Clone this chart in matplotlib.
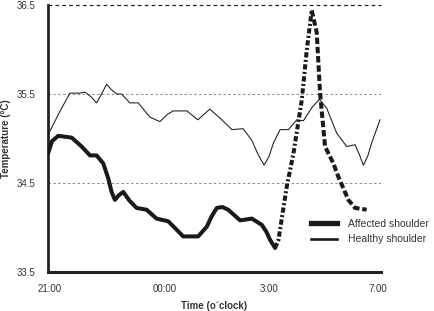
import matplotlib
matplotlib.use("Agg")
import matplotlib.pyplot as plt
from matplotlib.lines import Line2D

plt.rcParams['font.family'] = ['Liberation Sans', 'DejaVu Sans']

# x positions are on a relative time scale (0..100) matching the axis
healthy_x = [0, 3.5, 6.6, 9.6, 11.1, 12.9, 14.6, 16.1, 17.6, 19.0, 20.6, 22.1, 24.6, 27.1,
             30.6, 33.6, 35.8, 37.6, 41.7, 45.0, 46.8, 48.6, 52.2, 55.2, 58.6, 61.2, 63.1,
             64.9, 66.4, 67.7, 69.7, 72.2, 74.7, 76.7, 79.3, 81.5, 83.7, 86.7, 89.7, 92.2,
             93.5, 94.7, 96.0, 97.2, 99.7]
healthy_t = [35.04, 35.30, 35.51, 35.51, 35.52, 35.47, 35.40, 35.50, 35.61, 35.55, 35.50,
             35.50, 35.40, 35.40, 35.24, 35.19, 35.27, 35.31, 35.31, 35.21, 35.27, 35.33,
             35.21, 35.10, 35.11, 34.98, 34.82, 34.70, 34.80, 34.95, 35.10, 35.10, 35.21,
             35.20, 35.35, 35.44, 35.34, 35.06, 34.91, 34.93, 34.82, 34.70, 34.80, 34.95, 35.21]

affected_x = [0, 1.2, 3.1, 7.1, 10.1, 12.6, 14.6, 16.6, 18.1, 19.1, 20.1, 21.2, 22.6, 24.5,
              26.6, 29.6, 32.6, 36.1, 38.5, 40.6, 45.1, 47.7, 49.2, 50.7, 52.4, 54.1, 57.7,
              61.2, 64.2, 65.6, 66.7, 68.2]
affected_t = [34.83, 34.97, 35.03, 35.01, 34.91, 34.81, 34.81, 34.72, 34.55, 34.40, 34.31,
              34.36, 34.40, 34.30, 34.22, 34.20, 34.10, 34.07, 33.98, 33.90, 33.90, 34.01,
              34.13, 34.22, 34.23, 34.20, 34.08, 34.10, 34.03, 33.95, 33.86, 33.77]

rise_x = [68.2, 69.2, 71.7, 73.7, 76.2, 77.7, 79.2]
rise_t = [33.77, 33.86, 34.46, 34.83, 35.43, 35.99, 36.44]
fall_x = [79.2, 80.7, 81.7, 83.2, 85.7, 87.2, 90.2, 92.2, 95.7]
fall_t = [36.44, 36.19, 35.51, 34.91, 34.72, 34.57, 34.31, 34.22, 34.20]

y_ticks = [33.5, 34.5, 35.5, 36.5]
x_ticks = [0.5, 35.1, 66.4, 99.1]
x_labels = ['21:00', '00:00', '3:00', '7:00']

fig = plt.figure(figsize=(4.34, 3.11), dpi=100)
ax = fig.add_axes([48/434, 1-272/311, 333/434, 267/311])

tc = '#333333'
for y in [34.5, 35.5]:
    ax.axhline(y, color='#8a8a8a', lw=0.7, ls=(0, (2.5, 2.5)), zorder=1)
ax.axhline(36.5, color='#222222', lw=0.9, ls=(0, (3, 2.5)), zorder=1, clip_on=False)

lc = '#1a1a1a'
ax.plot(healthy_x, healthy_t, color=lc, lw=0.75, zorder=3, solid_joinstyle='round')
ax.plot(affected_x, affected_t, color=lc, lw=2.9, solid_capstyle='round',
        solid_joinstyle='round', zorder=4)
ax.plot(rise_x, rise_t, color=lc, lw=2.9, ls=(0, (1.3, 0.6, 0.5, 0.6)), zorder=4)
ax.plot(fall_x, fall_t, color=lc, lw=2.9, ls=(0, (1.6, 0.7)), zorder=4)

ax.set_xlim(0, 100)
ax.set_ylim(33.5, 36.5)
ax.set_yticks(y_ticks)
ax.set_yticklabels([f'{v:.1f}' for v in y_ticks])
ax.set_xticks(x_ticks)
ax.set_xticklabels(x_labels)
ax.tick_params(length=0, labelsize=7, labelcolor=tc)
ax.tick_params(axis='y', pad=9)
ax.tick_params(axis='x', pad=9)

for s in ['top', 'right']:
    ax.spines[s].set_visible(False)
ax.spines['left'].set_linewidth(2.0)
ax.spines['bottom'].set_linewidth(2.2)
ax.spines['left'].set_color('#222222')
ax.spines['bottom'].set_color('#222222')

ax.set_xlabel('Time (o´clock)', fontsize=7, fontweight='bold', color=tc, labelpad=5)
ax.set_ylabel('Temperature (°C)', fontsize=7, fontweight='bold', color=tc, labelpad=4)

handles = [Line2D([], [], color=lc, lw=3.8), Line2D([], [], color=lc, lw=1.9)]
ax.legend(handles, ['Affected shoulder', 'Healthy shoulder'], loc='center left',
          bbox_to_anchor=(0.79, 0.152), frameon=False, fontsize=7.5, handlelength=2.5,
          handletextpad=1.0, labelspacing=0.55, borderpad=0, borderaxespad=0,
          labelcolor=tc)

fig.savefig('out.png', dpi=100)
